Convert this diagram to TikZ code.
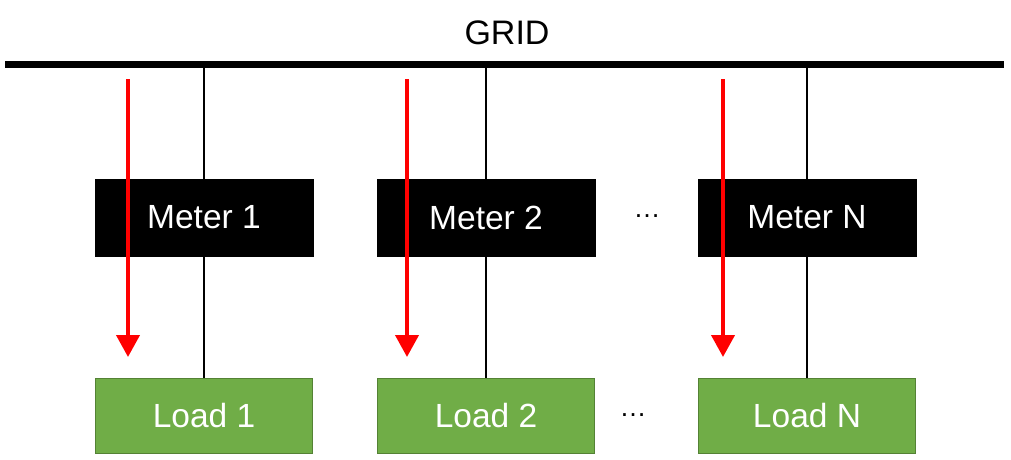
\documentclass[tikz,border=0pt]{standalone}
\usepackage{fontspec}
\setmainfont{Liberation Sans}
\usetikzlibrary{arrows.meta}
\definecolor{loadgreen}{HTML}{70AD47}
\definecolor{loadedge}{HTML}{548235}
\definecolor{flowred}{HTML}{FF0000}
\tikzset{
  meterbox/.style={draw=black, fill=black, text=white, minimum width=218pt, minimum height=77pt, inner sep=0pt, font=\fontsize{33.5}{38}\selectfont},
  loadbox/.style={draw=loadedge, line width=1.5pt, fill=loadgreen, text=white, minimum width=217pt, minimum height=75pt, inner sep=0pt, font=\fontsize{33.5}{38}\selectfont},
  wire/.style={draw=black, line width=2pt},
  flow/.style={draw=flowred, line width=4pt, -{Triangle[width=23pt,length=22pt]}},
  dotsstyle/.style={font=\fontsize{27}{30}\selectfont, inner sep=0pt},
}
\begin{document}
\begin{tikzpicture}[x=1pt,y=-1pt]
\useasboundingbox (0,0) rectangle (1011,459);
% grid
\node[font=\fontsize{34}{38}\selectfont, inner sep=0pt] (gridlabel) at (507,33) {GRID};
\coordinate (gl) at (5,64);
\coordinate (gr) at (1004,64);
\draw[line width=7pt] (gl) -- (gr);
% meters
\node[meterbox] (m1) at (204,217.5) {Meter 1};
\node[meterbox] (m2) at (486,217.5) {Meter 2};
\node[meterbox] (mN) at (807,217.5) {Meter N};
% loads
\node[loadbox] (l1) at (204,416) {Load 1};
\node[loadbox] (l2) at (486,416) {Load 2};
\node[loadbox] (lN) at (807,416) {Load N};
% taps on grid
\coordinate (g1) at (204,64);
\coordinate (g2) at (486,64);
\coordinate (gN) at (807,64);
\draw[wire] (g1) -- (m1.north);
\draw[wire] (g2) -- (m2.north);
\draw[wire] (gN) -- (mN.north);
\draw[wire] (m1.south) -- (l1.north);
\draw[wire] (m2.south) -- (l2.north);
\draw[wire] (mN.south) -- (lN.north);
% dots
\node[dotsstyle] (d1) at (647,216) {…};
\node[dotsstyle] (d2) at (633,415) {…};
% red flow arrows
\coordinate (a1s) at (128,79);  \coordinate (a1e) at (128,357);
\coordinate (a2s) at (407,79);  \coordinate (a2e) at (407,357);
\coordinate (aNs) at (723,79);  \coordinate (aNe) at (723,357);
\draw[flow] (a1s) -- (a1e);
\draw[flow] (a2s) -- (a2e);
\draw[flow] (aNs) -- (aNe);
\end{tikzpicture}
\end{document}
